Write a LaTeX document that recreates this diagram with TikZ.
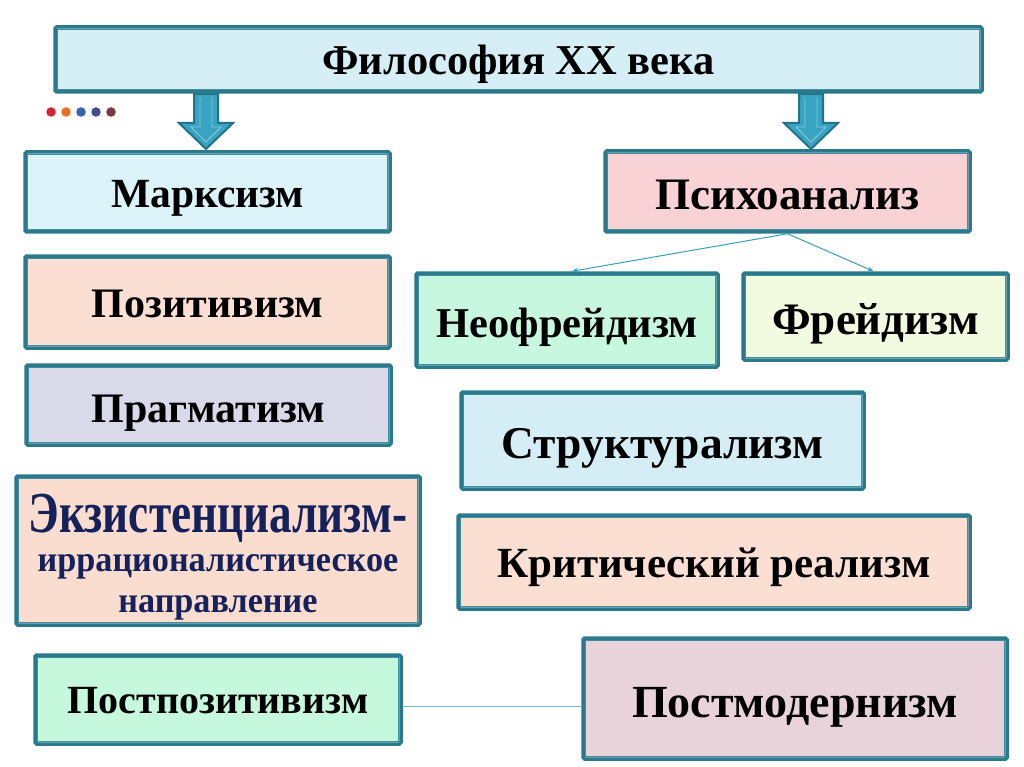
\documentclass[tikz,border=0pt]{standalone}
\usepackage{fontspec}
\setmainfont{Liberation Serif}
\usetikzlibrary{arrows.meta}
\definecolor{bordout}{HTML}{2A7A8C}
\definecolor{bordin}{HTML}{3E8FA2}
\definecolor{arrfill}{HTML}{38A4C2}
\definecolor{arrline}{HTML}{1F7489}
\definecolor{conn}{HTML}{3A9DBE}
\definecolor{navytext}{HTML}{14215A}
\definecolor{ctitle}{HTML}{D6EEF5}
\definecolor{cmarx}{HTML}{DBF3F9}
\definecolor{cpsy}{HTML}{F8D2D5}
\definecolor{cpos}{HTML}{FBDFD2}
\definecolor{cprag}{HTML}{D9D9E9}
\definecolor{cneo}{HTML}{C8F7E0}
\definecolor{cfreud}{HTML}{F2FADF}
\definecolor{cstruct}{HTML}{D5EEF5}
\definecolor{cexist}{HTML}{FBDDD0}
\definecolor{ccrit}{HTML}{FBDFD2}
\definecolor{cppos}{HTML}{C6F8DE}
\definecolor{cpmod}{HTML}{E9D3DA}
\definecolor{dot1}{HTML}{D62232}
\definecolor{dot2}{HTML}{E8701E}
\definecolor{dot3}{HTML}{3262B0}
\definecolor{dot4}{HTML}{434D8C}
\definecolor{dot5}{HTML}{7F3444}
\tikzset{
  pbox/.style={draw=bordout, line width=3.5pt, rounded corners=1.5pt, inner sep=0pt},
  pinner/.style={draw=bordin, line width=0.9pt},
  ptext/.style={anchor=base, inner sep=0pt, font=\bfseries},
  blockarrow/.style={fill=arrfill, draw=arrline, line width=2pt, line join=miter},
  connector/.style={draw=conn, line width=1pt},
  dotmark/.style={circle, inner sep=0pt, minimum size=9.5pt}
}
% \pbx{name}{x1}{y1}{x2}{y2}{fill}{baseline}{font size}{text}
\newcommand{\pbx}[9]{%
  \node[pbox, fill=#6, minimum width={#4-#2}, minimum height={#5-#3}]
    (#1) at ({(#2+#4)/2},{(#3+#5)/2}) {};
  \draw[pinner] ([shift={(4.5pt,-4.5pt)}]#1.north west) rectangle ([shift={(-4.5pt,4.5pt)}]#1.south east);
  \node[ptext, font=\bfseries\fontsize{#8}{#8}\selectfont] (#1-t) at ({(#2+#4)/2},#7) {#9};
}
\newcommand{\barrow}[1]{%
  \path[blockarrow] (#1-12,94) -- (#1-12,123) -- (#1-27,123) -- (#1,149) -- (#1+27,123) -- (#1+12,123) -- (#1+12,94) -- cycle;
  \path[draw=arrfill!60!white, line width=0.8pt] (#1-6,97) -- (#1-6,127) -- (#1-15,127) -- (#1,142) -- (#1+15,127) -- (#1+6,127) -- (#1+6,97);
}
\begin{document}
\begin{tikzpicture}[x=1pt,y=-1pt]
\useasboundingbox (0,0) rectangle (1024,767);
\fill[white] (0,0) rectangle (1024,767);

\barrow{206}
\barrow{811}

\pbx{title}{55}{27}{982}{92}{ctitle}{75}{42.5}{Философия XX века}
\pbx{marx}{25}{152}{390}{232}{cmarx}{208}{41.5}{Марксизм}
\pbx{psy}{605}{151}{970}{232}{cpsy}{210}{45}{Психоанализ}
\pbx{pos}{25}{256}{390}{348}{cpos}{317}{42}{Позитивизм}
\pbx{prag}{26}{365}{391}{445}{cprag}{422}{42}{Прагматизм}
\pbx{neo}{416}{273}{718}{367}{cneo}{337}{42.5}{Неофрейдизм}
\pbx{freud}{743}{273}{1008}{360}{cfreud}{334}{45}{Фрейдизм}
\pbx{struct}{461}{392}{864}{489}{cstruct}{458}{45.5}{Структурализм}
\pbx{crit}{458}{515}{970}{609}{ccrit}{577}{43}{Критический реализм}
\pbx{ppos}{35}{655}{401}{744}{cppos}{713}{40}{Постпозитивизм}
\pbx{pmod}{583}{638}{1007}{759}{cpmod}{717}{46}{Постмодернизм}

% Existentialism box: three lines of navy text
\pbx{exist}{16}{476}{420}{625}{cexist}{532}{58}{\color{navytext}\scalebox{0.78}[1]{Экзистенциализм-}}
\node[ptext, text=navytext, font=\bfseries\fontsize{36}{36}\selectfont] (exist-t2) at (218,571) {\scalebox{0.95}[1]{иррационалистическое}};
\node[ptext, text=navytext, font=\bfseries\fontsize{36}{36}\selectfont] (exist-t3) at (218,612) {\scalebox{0.95}[1]{направление}};

\node[dotmark, fill=dot1] (d1) at (51,112) {};
\node[dotmark, fill=dot2] (d2) at (66,112) {};
\node[dotmark, fill=dot3] (d3) at (81,112) {};
\node[dotmark, fill=dot4] (d4) at (96,112) {};
\node[dotmark, fill=dot5] (d5) at (111,112) {};

\draw[connector, -{Stealth[length=6pt,width=5pt]}] (psy.south) -- ([xshift=5pt]neo.north);
\draw[connector, -{Stealth[length=6pt,width=5pt]}] (psy.south) -- ([xshift=-2pt]freud.north);
\coordinate (lnA) at ([yshift=-7pt]ppos.east);
\draw[connector, draw=conn!70!white] (lnA) -- (pmod.west |- lnA);
\end{tikzpicture}
\end{document}
